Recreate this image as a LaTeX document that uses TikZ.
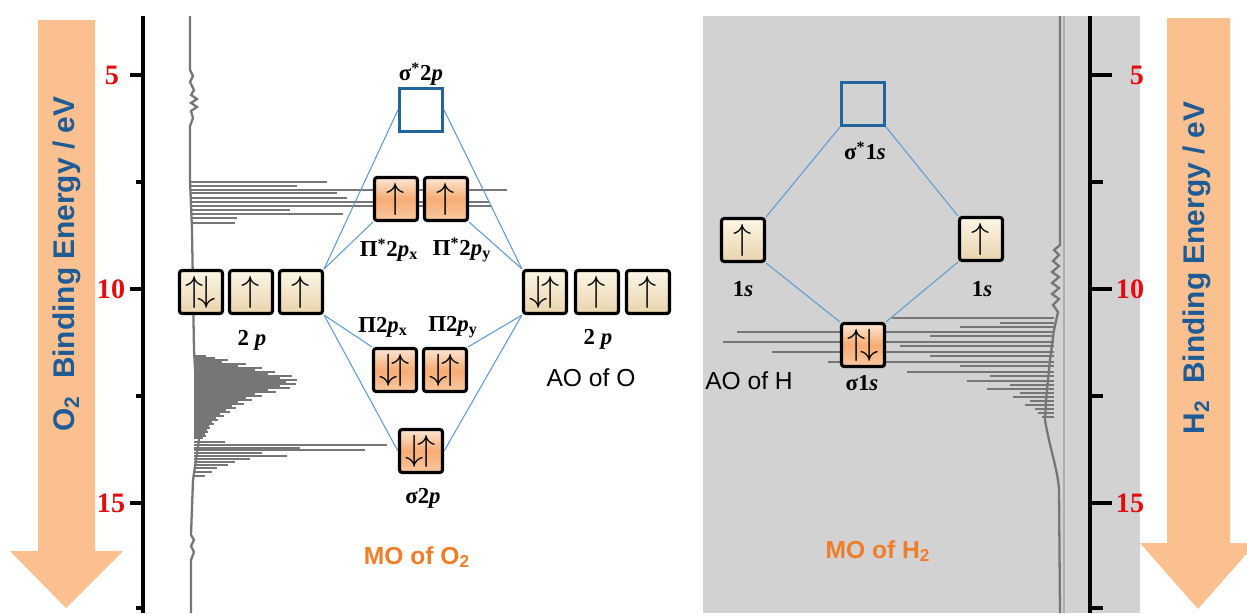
\documentclass[tikz,border=0pt]{standalone}
\usepackage{fontspec}
\setmainfont{Liberation Serif}
\setsansfont{Liberation Sans}
\usetikzlibrary{arrows.meta,positioning,calc}

\definecolor{arrowfill}{RGB}{250,192,143}
\definecolor{axisblue}{RGB}{31,92,150}
\definecolor{ticknum}{RGB}{228,12,12}
\definecolor{panelgray}{RGB}{210,210,210}
\definecolor{specgray}{RGB}{118,118,118}
\definecolor{linkblue}{RGB}{95,155,210}
\definecolor{emptyblue}{RGB}{35,100,155}
\definecolor{motext}{RGB}{240,125,40}
\definecolor{aotop}{RGB}{253,246,230}
\definecolor{aobot}{RGB}{232,212,172}
\definecolor{motop}{RGB}{252,230,214}
\definecolor{momid}{RGB}{246,172,115}
\definecolor{mobot}{RGB}{249,200,160}

\begin{document}
\begin{tikzpicture}[
    x=0.02cm, y=-0.02cm,
    aobox/.style={draw=black, line width=1.8pt, rounded corners=1.5pt, inner sep=0pt, minimum width=0.86cm, minimum height=0.86cm, top color=aotop, bottom color=aobot, font=\fontsize{20}{20}\selectfont},
    mobox/.style={aobox, top color=motop, bottom color=mobot, middle color=momid},
    emptybox/.style={draw=emptyblue, line width=1.8pt, inner sep=0pt, minimum width=0.86cm, minimum height=0.86cm},
    link/.style={draw=linkblue, line width=0.6pt},
    orb/.style={font=\fontsize{13}{15}\selectfont\bfseries, inner sep=0pt},
    aotext/.style={font=\sffamily\fontsize{14}{16}\selectfont, inner sep=0pt},
    motitle/.style={font=\sffamily\bfseries\fontsize{14}{16}\selectfont, text=motext, inner sep=0pt},
    axistitle/.style={rotate=90, text=axisblue, font=\sffamily\bfseries\fontsize{17}{17}\selectfont, inner sep=0pt},
    ticklab/.style={text=ticknum, font=\bfseries\fontsize{16}{16}\selectfont, inner sep=0pt},
    axisline/.style={draw=black, line width=2pt},
    spec/.style={draw=specgray, line width=1.3pt}
]
\useasboundingbox (0,0) rectangle (1247,613);

% grey panel of the H2 side
\fill[panelgray] (703,16) rectangle (1140,613);

% energy arrows
\fill[arrowfill] (38,20) -- (95,20) -- (95,551) -- (123,551) -- (66,608) -- (10,551) -- (38,551) -- cycle;
\fill[arrowfill] (1167,18) -- (1230,18) -- (1230,543) -- (1256,543) -- (1198,609) -- (1140,543) -- (1167,543) -- cycle;
\node[axistitle] (o2title) at (67,264) {O\textsubscript{2}\ \ Binding Energy / eV};
\node[axistitle] (h2title) at (1197,268) {H\textsubscript{2}\ \ Binding Energy / eV};

% axes
\draw[axisline] (143,16) -- (143,613);
\foreach \y in {75,289,503} \draw[axisline] (130,\y) -- (143,\y);
\foreach \y in {182,396,608} \draw[axisline] (136,\y) -- (143,\y);
\draw[axisline] (1090,16) -- (1090,613);
\foreach \y in {75,289,503} \draw[axisline] (1090,\y) -- (1112,\y);
\foreach \y in {182,396,608} \draw[axisline] (1090,\y) -- (1103,\y);
\node[ticklab] (l5) at (112,75) {5};
\node[ticklab] (l10) at (111,289) {10};
\node[ticklab] (l15) at (111,503) {15};
\node[ticklab] (r5) at (1137,75) {5};
\node[ticklab] (r10) at (1130,289) {10};
\node[ticklab] (r15) at (1130,503) {15};

% O2 spectrum
\draw[spec] (190,16) -- (190,70) -- (193,76) -- (190,82) -- (194,90) -- (191,95) -- (197,99) -- (191,103) -- (197,107) -- (191,111) -- (193,118) -- (190,126) -- (190,180) -- (192,230) -- (194,350) -- (199,440) -- (193,480) -- (191,535) -- (194,540) -- (191,546) -- (194,552) -- (191,560) -- (191,613);
\foreach \y/\x in {182/327,186/297,190/507,193/337,198/347,202/490,206/492,210/290,214/343,218/237,223/235}
    \draw[spec] (191,\y) -- (\x,\y);
\foreach \y/\x in {356/206,358/215,360/228,362/222,364/246,366/238,368/262,370/255,372/275,374/268,376/292,378/280,380/297,382/286,384/296,386/280,388/290,390/268,392/276,394/255,396/262,398/246,400/252,402/238,404/244,406/232,408/236,410/226,412/230,414/220,416/224,418/216,420/218,422/212,424/214,426/209,428/210,430/207,432/208,434/205,436/206,438/203}
    \draw[spec, line width=1pt] (194,\y) -- (\x,\y);
\foreach \y/\x in {442/225,445/387,448/300,450/365,453/262,456/287,459/250,462/235,465/228,468/217,472/212,476/205}
    \draw[spec] (194,\y) -- (\x,\y);

% H2 spectrum
\draw[draw=specgray!60, line width=0.8pt] (1064,16) -- (1064,613);
\draw[spec] (1060,16) -- (1060,245) -- (1054,250) -- (1059,255) -- (1053,261) -- (1059,266) -- (1052,272) -- (1059,277) -- (1052,283) -- (1059,288) -- (1052,294) -- (1059,299) -- (1053,305) -- (1058,312) -- (1054,330) -- (1050,360) -- (1046,400) -- (1045,420) .. controls (1050,450) and (1058,470) .. (1059,490) -- (1060,613);
\foreach \y/\x in {318/892,323/1000,327/960,332/737,336/930,342/723,346/900,352/772,356/930,362/828,366/960,372/907,376/990,381/967,385/1010,389/987,393/1020,397/1013,401/1030,405/1025,409/1035,413/1038,417/1042}
    \draw[spec] (1054,\y) -- (\x,\y);

% O2 orbitals
\node[aobox] (o2l1) at (201,292) {$\uparrow\!\downarrow$};
\node[aobox] (o2l2) at (251,292) {$\uparrow$};
\node[aobox] (o2l3) at (301,292) {$\uparrow$};
\node[aobox] (o2r1) at (545,292) {$\downarrow\!\uparrow$};
\node[aobox] (o2r2) at (597,292) {$\uparrow$};
\node[aobox] (o2r3) at (648,292) {$\uparrow$};
\node[emptybox] (sigstar) at (421,110) {};
\node[mobox] (pistarx) at (396,199) {$\uparrow$};
\node[mobox] (pistary) at (446,199) {$\uparrow$};
\node[mobox] (pix) at (395,370) {$\downarrow\!\uparrow$};
\node[mobox] (piy) at (445,370) {$\downarrow\!\uparrow$};
\node[mobox] (sig) at (421,451) {$\downarrow\!\uparrow$};

\node[orb] (sigstarlbl) at (421,74) {σ\textsuperscript{*}2\textit{p}};
\node[orb] (pistarxlbl) at (389,250) {Π\textsuperscript{*}2\textit{p}\textsubscript{x}};
\node[orb] (pistarylbl) at (462,250) {Π\textsuperscript{*}2\textit{p}\textsubscript{y}};
\node[orb] (pixlbl) at (383,327) {Π2\textit{p}\textsubscript{x}};
\node[orb] (piylbl) at (453,327) {Π2\textit{p}\textsubscript{y}};
\node[orb] (siglbl) at (423,498) {σ2\textit{p}};
\node[orb] (o2llbl) at (252,340) {2 \textit{p}};
\node[orb] (o2rlbl) at (598,339) {2 \textit{p}};
\node[aotext] (aoo) at (591,378) {AO of O};
\node[motitle] (moo2) at (417,557) {MO of O\textsubscript{2}};

\draw[link] (o2l3.north east) -- (sigstar.west);
\draw[link] (o2l3.north east) -- (pistarx.south west);
\draw[link] (o2l3.south east) -- (pix.north west);
\draw[link] (o2l3.south east) -- (sig.west);
\draw[link] (sigstar.east) -- (o2r1.north west);
\draw[link] (pistary.south east) -- (o2r1.north west);
\draw[link] (piy.north east) -- (o2r1.south west);
\draw[link] (sig.east) -- (o2r1.south west);

% H2 orbitals
\node[emptybox] (hsigstar) at (863,104) {};
\node[aobox] (hl) at (743,240) {$\uparrow$};
\node[aobox] (hr) at (981,239) {$\uparrow$};
\node[mobox] (hsig) at (863,345) {$\uparrow\!\downarrow$};

\node[orb] (hsigstarlbl) at (865,151) {σ\textsuperscript{*}1\textit{s}};
\node[orb] (hllbl) at (743,289) {1\textit{s}};
\node[orb] (hrlbl) at (982,289) {1\textit{s}};
\node[orb] (hsiglbl) at (862,383) {σ1\textit{s}};
\node[aotext] (aoh) at (749,381) {AO of H};
\node[motitle] (moh2) at (878,551) {MO of H\textsubscript{2}};

\draw[link] (hsigstar.south west) -- (hl.north east);
\draw[link] (hsigstar.south east) -- (hr.north west);
\draw[link] (hl.south east) -- (hsig.north west);
\draw[link] (hr.south west) -- (hsig.north east);
\end{tikzpicture}
\end{document}
